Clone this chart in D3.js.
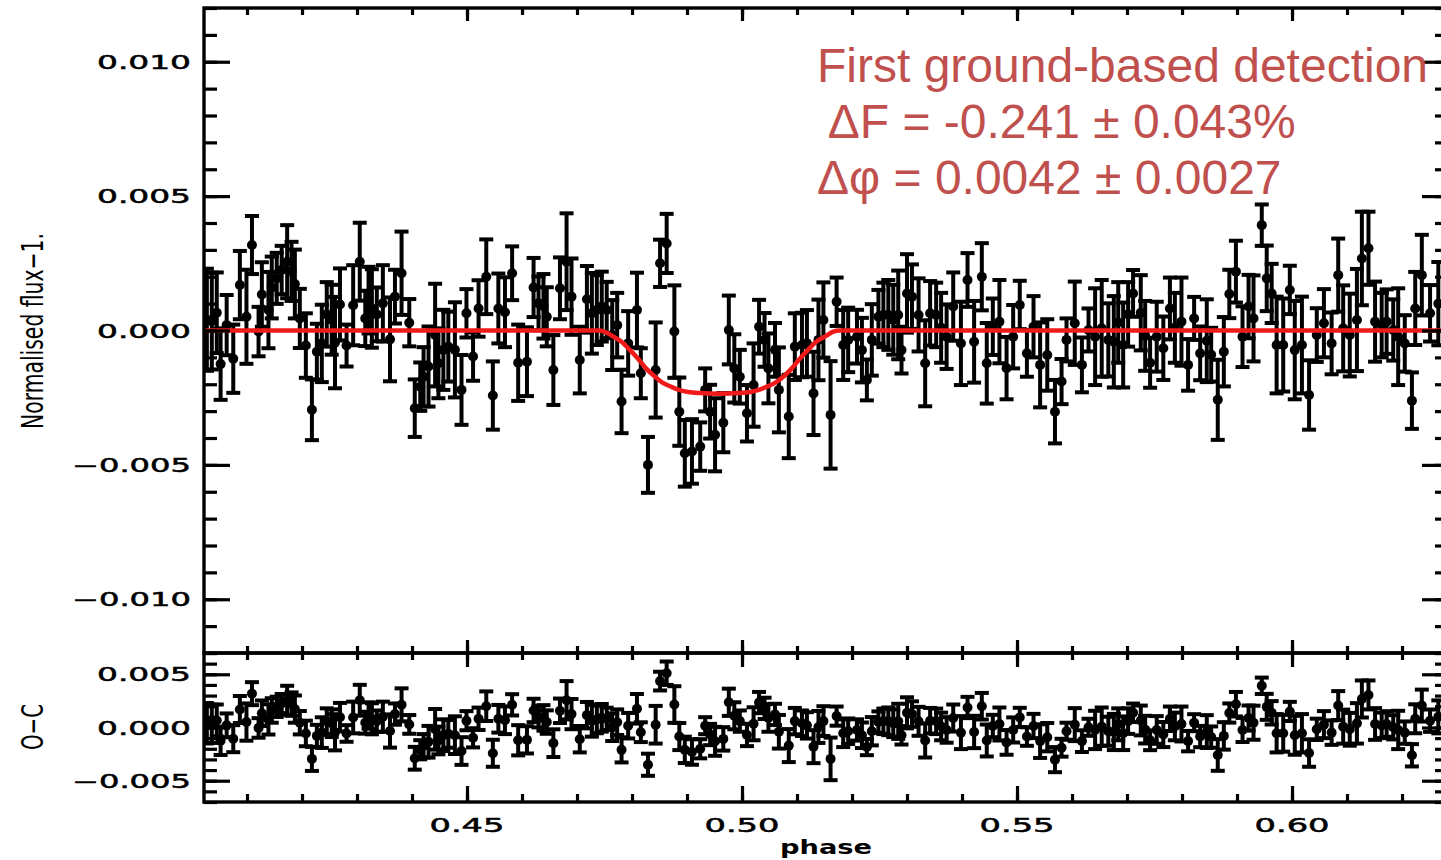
<!DOCTYPE html>
<html>
<head>
<meta charset="utf-8">
<title>Secondary eclipse - phase folded light curve</title>
<script src="https://d3js.org/d3.v7.min.js"></script>
<style>
  body { margin: 0; background: #fff; }
  svg { display: block; background: #fff; }
  .tick-label { font-family: "DejaVu Sans", sans-serif; font-size: 19px; fill: #000; stroke: #000; stroke-width: 0.5px; }
  .axis-title { font-family: "DejaVu Sans", sans-serif; fill: #000; }
  .note { font-family: "Liberation Sans", Arial, sans-serif; font-size: 48px; fill: #c0504d; white-space: pre; }
</style>
</head>
<body>
<div id="chart"></div>
<script>
// orbital phase of each binned point
const phase = [
  0.4027, 0.4036, 0.4045, 0.4052, 0.4063, 0.4075, 0.4087, 0.4099, 0.4109, 0.4121,
  0.4127, 0.4139, 0.4145, 0.4154, 0.4163, 0.4173, 0.4181, 0.4187, 0.4196, 0.4207,
  0.4218, 0.4227, 0.4236, 0.4245, 0.4254, 0.4260, 0.4269, 0.4281, 0.4293, 0.4305,
  0.4315, 0.4321, 0.4327, 0.4336, 0.4347, 0.4360, 0.4369, 0.4381, 0.4395, 0.4405,
  0.4415, 0.4421, 0.4430, 0.4442, 0.4448, 0.4457, 0.4466, 0.4478, 0.4490, 0.4499,
  0.4511, 0.4521, 0.4535, 0.4547, 0.4557, 0.4569, 0.4582, 0.4593, 0.4609, 0.4621,
  0.4630, 0.4639, 0.4645, 0.4657, 0.4669, 0.4681, 0.4690, 0.4705, 0.4718, 0.4727,
  0.4736, 0.4745, 0.4754, 0.4764, 0.4773, 0.4781, 0.4793, 0.4809, 0.4816, 0.4829,
  0.4843, 0.4851, 0.4863, 0.4877, 0.4886, 0.4896, 0.4909, 0.4924, 0.4933, 0.4942,
  0.4951, 0.4966, 0.4976, 0.4986, 0.4996, 0.5009, 0.5021, 0.5031, 0.5041, 0.5048,
  0.5060, 0.5067, 0.5085, 0.5096, 0.5109, 0.5118, 0.5130, 0.5139, 0.5148, 0.5161,
  0.5172, 0.5184, 0.5193, 0.5209, 0.5218, 0.5227, 0.5236, 0.5248, 0.5257, 0.5266,
  0.5275, 0.5284, 0.5290, 0.5300, 0.5309, 0.5321, 0.5333, 0.5342, 0.5353, 0.5362,
  0.5372, 0.5384, 0.5398, 0.5410, 0.5422, 0.5436, 0.5445, 0.5456, 0.5468, 0.5481,
  0.5493, 0.5505, 0.5518, 0.5530, 0.5542, 0.5555, 0.5569, 0.5581, 0.5590, 0.5605,
  0.5618, 0.5630, 0.5642, 0.5654, 0.5666, 0.5676, 0.5684, 0.5693, 0.5702, 0.5711,
  0.5725, 0.5733, 0.5742, 0.5754, 0.5766, 0.5778, 0.5787, 0.5799, 0.5811, 0.5822,
  0.5833, 0.5845, 0.5853, 0.5865, 0.5876, 0.5886, 0.5898, 0.5910, 0.5921, 0.5930,
  0.5945, 0.5954, 0.5963, 0.5972, 0.5984, 0.5996, 0.6005, 0.6018, 0.6031, 0.6045,
  0.6058, 0.6072, 0.6084, 0.6093, 0.6105, 0.6118, 0.6127, 0.6139, 0.6151, 0.6163,
  0.6172, 0.6184, 0.6193, 0.6205, 0.6218, 0.6224, 0.6236, 0.6251, 0.6266
];

// normalised flux - 1, in units of 1e-3
const flux = [
  0.4, 0.35, 0.66, -1.25, 0.2, -1.05, 1.69, 0.51, 3.18, -0.04,
  1.34, 0.76, 1.6, 1.94, 2.25, 2.56, 2.2, 1.73, 0.45, -0.56,
  -2.95, -0.79, -0.48, 0.6, 0.4, -0.45, 0.97, -0.56, 0.94, 2.56,
  0.45, 1.13, 0.82, 0.6, 1.01, -0.33, 1.26, 2.13, 0.29, -2.89,
  -2.09, -1.72, -1.34, -0.17, -1.22, -0.72, -0.6, -0.72, -2.21, 0.64,
  -0.97, 0.82, 2.0, -2.42, 0.82, 0.68, 2.13, -1.2, -1.16, 1.6,
  1.01, 0.9, 0.51, -1.47, 1.57, 2.56, 1.26, -1.1, 1.16, 0.64,
  0.76, 0.89, 0.76, -0.17, 0.2, -2.64, -0.48, 0.76, -1.59, -5.0,
  -1.47, 2.5, 3.24, -0.04, -3.02, -4.57, -4.5, -4.32, -2.21, -3.02,
  -3.88, -3.43, 0.02, -1.41, -1.72, -3.08, -2.03, 0.14, -0.35, -1.41,
  -0.72, -2.21, -3.2, -0.6, -0.54, -0.48, -2.34, -0.35, 0.39, -3.14,
  1.07, -0.54, -0.35, -0.23, -0.73, -1.84, -0.35, 0.51, 0.58, 0.58,
  0.4, 0.58, -0.73, 1.38, 1.26, 0.58, -1.22, 0.64, 0.58, 0.1,
  -0.23, 0.89, -0.48, 1.88, -0.42, 2.0, -1.22, 0.14, 0.33, -1.4,
  -0.23, 0.95, -0.85, 0.14, -1.28, -0.91, -3.02, -1.9, -0.35, 0.27,
  -1.28, 0.02, -0.23, 0.08, -0.35, -0.42, 0.3, -0.54, 0.6, 1.38,
  0.66, -0.2, -1.2, -0.23, -0.66, 0.82, 0.1, 0.33, -1.28, 0.45,
  -0.85, -0.38, -0.9, -2.58, -0.79, 1.36, 2.19, -0.23, 0.89, 0.45,
  3.92, 1.94, 1.38, -0.54, -0.54, 1.51, -0.73, -0.54, -2.4, -0.17,
  0.27, -0.48, 2.06, 0.08, -0.17, 0.39, 2.68, 3.06, 0.33, 0.2,
  0.33, 0.02, -0.23, -0.48, -2.61, 0.82, 2.06, 0.64, 1.0
];

// 1-sigma error of each point, units of 1e-3
const fluxErr = [
  1.9, 1.8, 1.5, 1.33, 1.12, 1.27, 1.27, 1.75, 1.08, 0.92,
  1.2, 1.42, 1.15, 0.95, 0.9, 1.36, 1.1, 1.28, 1.1, 1.2,
  1.13, 1.04, 1.44, 1.2, 1.3, 1.7, 1.34, 0.78, 1.49, 1.45,
  1.03, 1.24, 1.46, 1.0, 1.42, 1.56, 1.0, 1.55, 0.88, 1.07,
  0.9, 1.1, 1.49, 1.91, 1.3, 1.49, 1.3, 1.77, 1.3, 0.9,
  0.9, 1.05, 1.39, 1.27, 1.3, 1.3, 1.0, 1.42, 1.28, 1.1,
  1.0, 1.2, 1.1, 1.3, 1.15, 1.8, 1.42, 1.24, 1.24, 1.5,
  1.3, 1.3, 1.05, 1.3, 1.2, 1.18, 1.2, 1.39, 0.93, 1.04,
  1.77, 0.88, 1.1, 1.72, 1.27, 1.24, 1.2, 0.9, 0.8, 1.0,
  1.36, 1.1, 1.28, 1.27, 1.0, 1.05, 1.55, 1.0, 1.0, 1.3,
  1.0, 1.58, 1.55, 1.24, 1.2, 1.24, 1.55, 1.5, 1.4, 2.0,
  0.9, 1.3, 1.2, 1.0, 1.2, 0.76, 1.33, 1.0, 1.2, 1.3,
  1.3, 1.65, 0.87, 1.46, 1.2, 1.36, 1.6, 1.2, 1.2, 1.3,
  1.2, 1.27, 1.55, 1.0, 1.52, 1.25, 1.5, 1.05, 1.55, 1.16,
  1.18, 0.9, 0.87, 1.14, 1.58, 1.33, 1.18, 0.84, 0.8, 1.55,
  1.02, 0.8, 1.8, 1.8, 1.36, 1.7, 1.5, 1.58, 1.2, 0.87,
  1.4, 1.3, 0.93, 1.3, 1.18, 1.15, 1.3, 1.64, 0.96, 0.8,
  1.0, 1.54, 1.0, 1.49, 1.29, 0.9, 1.15, 1.13, 1.18, 1.6,
  0.77, 1.22, 1.1, 1.8, 1.73, 0.9, 1.83, 1.8, 1.29, 1.0,
  1.27, 1.15, 1.36, 1.6, 1.54, 1.9, 1.74, 1.36, 1.49, 1.2,
  1.2, 1.14, 1.8, 1.05, 1.05, 1.36, 1.5, 1.05, 1.55
];

// O-C residuals, units of 1e-3
const resid = [
  0.4, 0.35, 0.66, -1.25, 0.2, -1.05, 1.69, 0.51, 3.18, -0.04,
  1.34, 0.76, 1.6, 1.94, 2.25, 2.56, 2.2, 1.73, 0.45, -0.56,
  -2.95, -0.79, -0.48, 0.6, 0.4, -0.45, 0.97, -0.56, 0.94, 2.56,
  0.45, 1.13, 0.82, 0.6, 1.01, -0.33, 1.26, 2.13, 0.29, -2.89,
  -2.09, -1.72, -1.34, -0.17, -1.22, -0.72, -0.6, -0.72, -2.21, 0.64,
  -0.97, 0.82, 2.0, -2.42, 0.82, 0.68, 2.13, -1.2, -1.16, 1.6,
  1.01, 0.9, 0.51, -1.47, 1.57, 2.56, 1.26, -1.1, 1.16, 0.64,
  0.76, 0.91, 0.81, 0.03, 0.5, -2.1, 0.17, 1.76, -0.44, -3.5,
  0.26, 4.36, 5.1, 2.16, -0.85, -2.1, -2.3, -2.0, 0.17, -0.66,
  -1.3, -1.07, 2.37, 1.1, 0.6, -0.7, 0.35, 2.34, 1.8, 0.9,
  1.23, -0.4, -1.7, 0.6, 0.4, 0.2, -1.8, 0.05, 0.6, -2.95,
  1.07, -0.54, -0.35, -0.23, -0.73, -1.84, -0.35, 0.51, 0.58, 0.58,
  0.4, 0.58, -0.73, 1.38, 1.26, 0.58, -1.22, 0.64, 0.58, 0.1,
  -0.23, 0.89, -0.48, 1.88, -0.42, 2.0, -1.22, 0.14, 0.33, -1.4,
  -0.23, 0.95, -0.85, 0.14, -1.28, -0.91, -3.02, -1.9, -0.35, 0.27,
  -1.28, 0.02, -0.23, 0.08, -0.35, -0.42, 0.3, -0.54, 0.6, 1.38,
  0.66, -0.2, -1.2, -0.23, -0.66, 0.82, 0.1, 0.33, -1.28, 0.45,
  -0.85, -0.38, -0.9, -2.58, -0.79, 1.36, 2.19, -0.23, 0.89, 0.45,
  3.92, 1.94, 1.38, -0.54, -0.54, 1.51, -0.73, -0.54, -2.4, -0.17,
  0.27, -0.48, 2.06, 0.08, -0.17, 0.39, 2.68, 3.06, 0.33, 0.2,
  0.33, 0.02, -0.23, -0.48, -2.61, 0.82, 2.06, 0.64, 1.0
];

// fitted eclipse model (red curve)
const modelPhase = [0.400, 0.4738, 0.4751, 0.4764, 0.4781, 0.4796, 0.4811, 0.4825, 0.4842,
  0.4856, 0.4872, 0.4887, 0.4902, 0.4924, 0.4958, 0.4993, 0.5015, 0.5029, 0.5044,
  0.5060, 0.5075, 0.5091, 0.5105, 0.5120, 0.5135, 0.5153, 0.5165, 0.5178, 0.630];
const modelFlux = [0, 0, -0.05, -0.2, -0.42, -0.72, -1.05, -1.4, -1.72,
  -1.95, -2.1, -2.22, -2.29, -2.33, -2.35, -2.33, -2.29, -2.22, -2.1,
  -1.95, -1.72, -1.4, -1.05, -0.72, -0.42, -0.2, -0.05, 0, 0];

const xMajorTicks = [0.45, 0.50, 0.55, 0.60];
const yTopMajorTicks = [-10, -5, 0, 5, 10];
const yBotMajorTicks = [-5, 0, 5];
const noteLines = ['First ground-based detection', ' \u0394F = -0.241 \u00b1 0.043%', '\u0394\u03c6 = 0.0042 \u00b1 0.0027'];

const W = 1441, H = 860;
const left = 204, right = 1448;
const top1 = 8, mid = 653, bot2 = 802;

const svg = d3.select('#chart').append('svg')
  .attr('width', W).attr('height', H);

const x = d3.scaleLinear().domain([0.40218, 0.62836]).range([left, right]);
const yTop = d3.scaleLinear().domain([-12, 12]).range([mid, top1]);
const yBot = d3.scaleLinear().domain([-7, 7]).range([bot2, mid]);

const xMinor = x.ticks(22);
const yTopMinor = yTop.ticks(24);
const yBotMinor = yBot.ticks(14);

svg.append('clipPath').attr('id', 'clipTop')
  .append('rect').attr('x', left).attr('y', top1).attr('width', right - left).attr('height', mid - top1);
svg.append('clipPath').attr('id', 'clipBot')
  .append('rect').attr('x', left).attr('y', mid).attr('width', right - left).attr('height', bot2 - mid);

const pts = phase.map((p, i) => ({ p: p, f: flux[i], e: fluxErr[i], r: resid[i] }));

// error bars with caps and filled dots
const drawPoints = (g, yScale, key) => {
  const cap = 7;
  const pt = g.selectAll('g.pt').data(pts).enter().append('g').attr('class', 'pt');
  pt.append('line')
    .attr('x1', d => x(d.p)).attr('x2', d => x(d.p))
    .attr('y1', d => yScale(d[key] - d.e)).attr('y2', d => yScale(d[key] + d.e));
  pt.append('line')
    .attr('x1', d => x(d.p) - cap).attr('x2', d => x(d.p) + cap)
    .attr('y1', d => yScale(d[key] + d.e)).attr('y2', d => yScale(d[key] + d.e));
  pt.append('line')
    .attr('x1', d => x(d.p) - cap).attr('x2', d => x(d.p) + cap)
    .attr('y1', d => yScale(d[key] - d.e)).attr('y2', d => yScale(d[key] - d.e));
  pt.selectAll('line').attr('stroke', '#000').attr('stroke-width', 4);
  pt.append('circle')
    .attr('cx', d => x(d.p)).attr('cy', d => yScale(d[key]))
    .attr('r', 5).attr('fill', '#000');
};

const gTop = svg.append('g').attr('clip-path', 'url(#clipTop)');
drawPoints(gTop, yTop, 'f');

const model = modelPhase.map((p, i) => [p, modelFlux[i]]);
gTop.append('path')
  .datum(model)
  .attr('fill', 'none')
  .attr('stroke', '#f01a1a')
  .attr('stroke-width', 4.5)
  .attr('d', d3.line().x(d => x(d[0])).y(d => yTop(d[1])).curve(d3.curveMonotoneX));

const gBot = svg.append('g').attr('clip-path', 'url(#clipBot)');
drawPoints(gBot, yBot, 'r');

// axes: ticks drawn inward on all four sides of both panels
const addAxis = (axisFn, scale, values, size, tx, ty) => {
  const g = svg.append('g')
    .attr('transform', `translate(${tx},${ty})`)
    .call(axisFn(scale).tickValues(values).tickSize(size).tickFormat(''));
  g.select('.domain').remove();
  g.selectAll('line').attr('stroke', '#000').attr('stroke-width', 3.2);
};

// y axes
addAxis(d3.axisRight, yTop, yTopMinor, 13, left, 0);
addAxis(d3.axisRight, yTop, yTopMajorTicks, 26, left, 0);
addAxis(d3.axisLeft, yTop, yTopMinor, 13, right, 0);
addAxis(d3.axisLeft, yTop, yTopMajorTicks, 26, right, 0);
addAxis(d3.axisRight, yBot, yBotMinor, 13, left, 0);
addAxis(d3.axisRight, yBot, yBotMajorTicks, 26, left, 0);
addAxis(d3.axisLeft, yBot, yBotMinor, 13, right, 0);
addAxis(d3.axisLeft, yBot, yBotMajorTicks, 26, right, 0);

// x axes
addAxis(d3.axisBottom, x, xMinor, 7, 0, top1);
addAxis(d3.axisBottom, x, xMajorTicks, 13, 0, top1);
addAxis(d3.axisTop, x, xMinor, 7, 0, mid);
addAxis(d3.axisTop, x, xMajorTicks, 13, 0, mid);
addAxis(d3.axisBottom, x, xMinor, 7, 0, mid);
addAxis(d3.axisBottom, x, xMajorTicks, 14, 0, mid);
addAxis(d3.axisTop, x, xMinor, 8, 0, bot2);
addAxis(d3.axisTop, x, xMajorTicks, 16, 0, bot2);

// frames
[[top1, mid], [mid, bot2]].forEach(([a, b]) => {
  svg.append('rect')
    .attr('x', left).attr('y', a)
    .attr('width', right - left).attr('height', b - a)
    .attr('fill', 'none').attr('stroke', '#000').attr('stroke-width', 3.4);
});

// tick labels
const yFmt = v => (v < 0 ? '\u2212' : '') + d3.format('.3f')(Math.abs(v) / 1000);
const yLabels = (scale, values) => {
  svg.append('g').selectAll('text').data(values).enter().append('text')
    .attr('class', 'tick-label')
    .attr('x', 191)
    .attr('y', d => scale(d) + 7)
    .attr('text-anchor', 'end')
    .attr('textLength', d => d < 0 ? 119 : 94)
    .attr('lengthAdjust', 'spacingAndGlyphs')
    .text(yFmt);
};
yLabels(yTop, yTopMajorTicks);
yLabels(yBot, yBotMajorTicks);

svg.append('g').selectAll('text').data(xMajorTicks).enter().append('text')
  .attr('class', 'tick-label')
  .attr('x', d => x(d))
  .attr('y', 832)
  .attr('text-anchor', 'middle')
  .attr('textLength', 75)
  .attr('lengthAdjust', 'spacingAndGlyphs')
  .text(d => d3.format('.2f')(d));

// axis titles
svg.append('text')
  .attr('class', 'axis-title')
  .attr('x', 826).attr('y', 854)
  .attr('text-anchor', 'middle')
  .attr('font-size', 20)
  .attr('font-weight', 'bold')
  .attr('textLength', 92)
  .attr('lengthAdjust', 'spacingAndGlyphs')
  .text('phase');

svg.append('text')
  .attr('class', 'axis-title')
  .attr('transform', 'translate(43,331) rotate(-90)')
  .attr('text-anchor', 'middle')
  .attr('font-size', 30)
  .attr('textLength', 196)
  .attr('lengthAdjust', 'spacingAndGlyphs')
  .text('Normalised flux\u22121.');

svg.append('text')
  .attr('class', 'axis-title')
  .attr('transform', 'translate(43,727) rotate(-90)')
  .attr('text-anchor', 'middle')
  .attr('font-size', 30)
  .attr('textLength', 46)
  .attr('lengthAdjust', 'spacingAndGlyphs')
  .text('O\u2212C');

// annotation
svg.append('g').selectAll('text').data(noteLines).enter().append('text')
  .attr('class', 'note')
  .attr('x', 817)
  .attr('y', (d, i) => 82 + i * 56)
  .text(d => d);
</script>
</body>
</html>
